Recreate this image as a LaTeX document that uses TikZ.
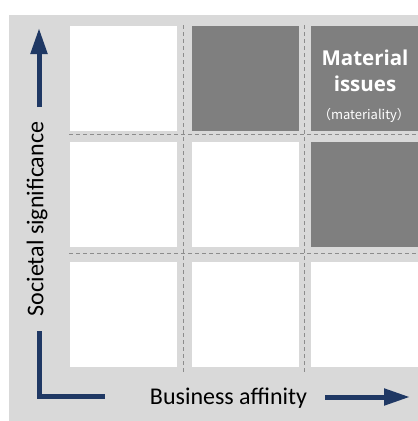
\documentclass[tikz,border=0pt]{standalone}
\usepackage{fontspec}
\setmainfont{Carlito}
\newfontfamily\titlefont{Open Sans}
\newfontfamily\jpfont{Noto Sans CJK JP}
\usetikzlibrary{arrows.meta}
\definecolor{panelgray}{HTML}{D9D9D9}
\definecolor{cellgray}{HTML}{7F7F7F}
\definecolor{axisblue}{HTML}{1F3864}
\definecolor{gridgray}{HTML}{8C8C8C}

\begin{document}
\begin{tikzpicture}[x=1pt,y=-1pt]
	\tikzset{cell/.style={fill=white, inner sep=0pt, minimum width=107pt, minimum height=105pt}}
	\tikzset{hotcell/.style={cell, fill=cellgray}}
	\tikzset{gridline/.style={gridgray, line width=1pt, dash pattern=on 4pt off 3pt}}
	\tikzset{axis/.style={axisblue, line width=5pt, -{Triangle[length=26pt,width=16pt]}}}
	\useasboundingbox (0,0) rectangle (418,421);
	\fill[panelgray] (9,15) rectangle (418,421);
	%cells
	\node[cell]    (c11) at (123.5,78) {};
	\node[hotcell] (c12) at (245.5,78) {};
	\node[hotcell] (c13) at (364,78) {};
	\node[cell]    (c21) at (123.5,194) {};
	\node[cell]    (c22) at (245.5,194) {};
	\node[hotcell] (c23) at (364,194) {};
	\node[cell]    (c31) at (123.5,314) {};
	\node[cell]    (c32) at (245.5,314) {};
	\node[cell]    (c33) at (364,314) {};
	%grid
	\draw[gridline] (183,25) -- (183,373);
	\draw[gridline] (304,25) -- (304,373);
	\draw[gridline] (69,134) -- (418,134);
	\draw[gridline] (69,253) -- (418,253);
	%labels
	\node[white, align=center, font=\titlefont\bfseries\fontsize{20.5}{26}\selectfont] (mat) at (365,71) {Material\\issues};
	\node[white, font=\jpfont\fontsize{13}{15}\selectfont] (matsub) at (364,115) {（materiality）};
	\node[rotate=90, font=\fontsize{24}{27}\selectfont] (ylabel) at (37,219) {Societal significance};
	\node[font=\fontsize{24}{27}\selectfont] (xlabel) at (228.5,398) {Business affinity};
	%axes
	\coordinate (ytail) at (39,107);
	\coordinate (yhead) at (39,28);
	\coordinate (lup) at (39,331);
	\coordinate (lcorner) at (39,396);
	\coordinate (lright) at (105,396);
	\coordinate (xtail) at (325,397);
	\coordinate (xhead) at (410,397);
	\draw[axis] (ytail) -- (yhead);
	\draw[axisblue, line width=5pt] (lup) -- (lcorner) -- (lright);
	\draw[axis] (xtail) -- (xhead);
\end{tikzpicture}
\end{document}
